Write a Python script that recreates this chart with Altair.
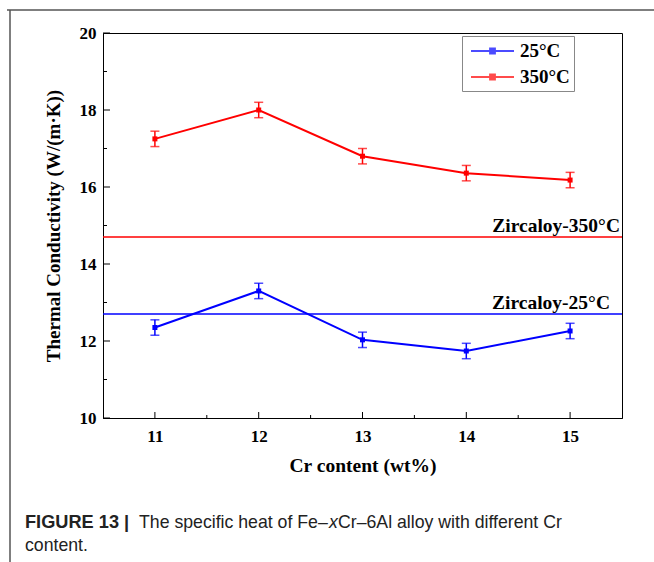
import altair as alt
import pandas as pd

# ---- data ----
cr = [11, 12, 13, 14, 15]
k_25 = [12.35, 13.30, 12.03, 11.74, 12.26]
k_350 = [17.25, 18.00, 16.80, 16.36, 16.18]
err_25 = [0.20, 0.20, 0.20, 0.20, 0.20]
err_350 = [0.20, 0.20, 0.20, 0.20, 0.20]
series = ["25°C", "350°C"]
colors = ["#0000FF", "#FF0000"]
zirc_values = [12.7, 14.7]
zirc_labels = ["Zircaloy-25°C", "Zircaloy-350°C"]
y_major = [10, 12, 14, 16, 18, 20]
y_minor = [11, 13, 15, 17, 19]
x_major = [11, 12, 13, 14, 15]
x_minor = [11.5, 12.5, 13.5, 14.5]

rows = []
for s, vals, errs in [(series[0], k_25, err_25), (series[1], k_350, err_350)]:
    for c, v, e in zip(cr, vals, errs):
        rows.append({"cr": c, "k": v, "lo": v - e, "hi": v + e, "series": s})
df = pd.DataFrame(rows)
zdf = pd.DataFrame({"k": zirc_values, "label": zirc_labels, "series": series})

W, H = 519, 385
SERIF = "Liberation Serif"
SANS = "Liberation Sans"

xs = alt.Scale(domain=[10.5, 15.5], nice=False, zero=False)
ys = alt.Scale(domain=[10, 20], nice=False, zero=False)
cs = alt.Scale(domain=series, range=colors)

# legend symbol: line with a small square marker in its middle
legend_path = "M-0.6,0H3.7M1.31,-0.24H1.79V0.24H1.31Z"
leg = alt.Legend(title=None, orient="none", legendX=359, legendY=3,
                 symbolType=legend_path, symbolSize=400,
                 symbolStrokeWidth=2, labelFont=SERIF,
                 labelFontWeight="bold", labelFontSize=19,
                 labelColor="black", strokeColor="#888888",
                 fillColor="white", padding=4, rowPadding=5,
                 labelOffset=32)
col = alt.Color("series:N", scale=cs, legend=leg)

base = alt.Chart(df)

x_enc = alt.X("cr:Q", scale=xs,
              axis=alt.Axis(values=x_major, ticks=False, labelFont=SERIF, labelFontWeight="bold",
                            labelFontSize=17, labelPadding=10, title="Cr content (wt%)",
                            titleFont=SERIF, titleFontWeight="bold", titleFontSize=19.5,
                            titlePadding=12, grid=False, domainColor="black", labelColor="black",
                            titleColor="black", format="d"))
y_enc = alt.Y("k:Q", scale=ys,
              axis=alt.Axis(values=y_major, ticks=False, labelFont=SERIF, labelFontWeight="bold",
                            labelFontSize=17, labelPadding=7, title="Thermal Conductivity (W/(m·K))",
                            titleFont=SERIF, titleFontWeight="bold", titleFontSize=19,
                            titlePadding=16, grid=False, domainColor="black", labelColor="black",
                            titleColor="black", format="d"))

lines = base.mark_line(strokeWidth=2).encode(x=x_enc, y=y_enc, color=col)
points = base.mark_point(shape="square", filled=True, size=25, opacity=1).encode(
    x=alt.X("cr:Q", scale=xs), y=alt.Y("k:Q", scale=ys), color=col)
bars = base.mark_rule(strokeWidth=1.5).encode(
    x=alt.X("cr:Q", scale=xs), y=alt.Y("lo:Q", scale=ys), y2="hi:Q", color=col)
cap_lo = base.mark_tick(orient="horizontal", size=9, thickness=1.5).encode(
    x=alt.X("cr:Q", scale=xs), y=alt.Y("lo:Q", scale=ys), color=col)
cap_hi = base.mark_tick(orient="horizontal", size=9, thickness=1.5).encode(
    x=alt.X("cr:Q", scale=xs), y=alt.Y("hi:Q", scale=ys), color=col)

zc = alt.Chart(zdf)
zlines = zc.mark_rule(strokeWidth=1.5).encode(
    y=alt.Y("k:Q", scale=ys), x=alt.value(0), x2=alt.value(W), color=col)
zlab350 = zc.transform_filter(alt.datum.series == series[1]).mark_text(
    align="right", baseline="bottom", font=SERIF, fontWeight="bold",
    fontSize=19.5, color="black", dy=-1, dx=-2).encode(
    y=alt.Y("k:Q", scale=ys), x=alt.value(W), text="label:N")
zlab25 = zc.transform_filter(alt.datum.series == series[0]).mark_text(
    align="right", baseline="bottom", font=SERIF, fontWeight="bold",
    fontSize=19.5, color="black", dy=-1, dx=-12).encode(
    y=alt.Y("k:Q", scale=ys), x=alt.value(W), text="label:N")

# inner ticks
ymaj = alt.Chart(pd.DataFrame({"v": y_major})).mark_rule(color="black").encode(
    y=alt.Y("v:Q", scale=ys), x=alt.value(0), x2=alt.value(7))
ymin = alt.Chart(pd.DataFrame({"v": y_minor})).mark_rule(color="black").encode(
    y=alt.Y("v:Q", scale=ys), x=alt.value(0), x2=alt.value(4))
xmaj = alt.Chart(pd.DataFrame({"v": x_major})).mark_rule(color="black").encode(
    x=alt.X("v:Q", scale=xs), y=alt.value(H), y2=alt.value(H - 6))
xmin = alt.Chart(pd.DataFrame({"v": x_minor})).mark_rule(color="black").encode(
    x=alt.X("v:Q", scale=xs), y=alt.value(H), y2=alt.value(H - 3))

# figure frame (decoration)
frame_top = alt.Chart(pd.DataFrame({"a": [0]})).mark_rule(color="#555555", strokeWidth=1.5).encode(
    x=alt.value(-96), x2=alt.value(560), y=alt.value(-23))
frame_left = alt.Chart(pd.DataFrame({"a": [0]})).mark_rule(color="#555555", strokeWidth=1.5).encode(
    x=alt.value(-93), y=alt.value(-23), y2=alt.value(540))

# caption
cap_df = pd.DataFrame({"a": [0]})
def cap(text, x, y, weight="normal", style="normal", size=17.7):
    return alt.Chart(cap_df).mark_text(align="left", baseline="alphabetic", font=SANS,
                                       fontSize=size, fontWeight=weight, fontStyle=style,
                                       color="#222222", text=text).encode(
        x=alt.value(x), y=alt.value(y))

c1 = cap("FIGURE 13 |", -78, 495, weight="bold", size=18.2)
c2 = cap("The specific heat of Fe–", 36, 495)
c3 = cap("x", 226, 495, style="italic")
c4 = cap("Cr–6Al alloy with different Cr", 235, 495)
c5 = cap("content.", -78, 518)

chart = alt.layer(
    zlines, zlab350, zlab25, lines, bars, cap_lo, cap_hi, points,
    ymaj, ymin, xmaj, xmin, frame_top, frame_left, c1, c2, c3, c4, c5
).properties(
    width=W, height=H,
    autosize=alt.AutoSizeParams(type="none"),
    padding={"left": 103, "top": 33, "right": 32, "bottom": 144},
    background="white"
).configure_view(stroke="black", strokeWidth=1)

chart.save("out.html", embed_options={"renderer": "svg", "actions": False})
